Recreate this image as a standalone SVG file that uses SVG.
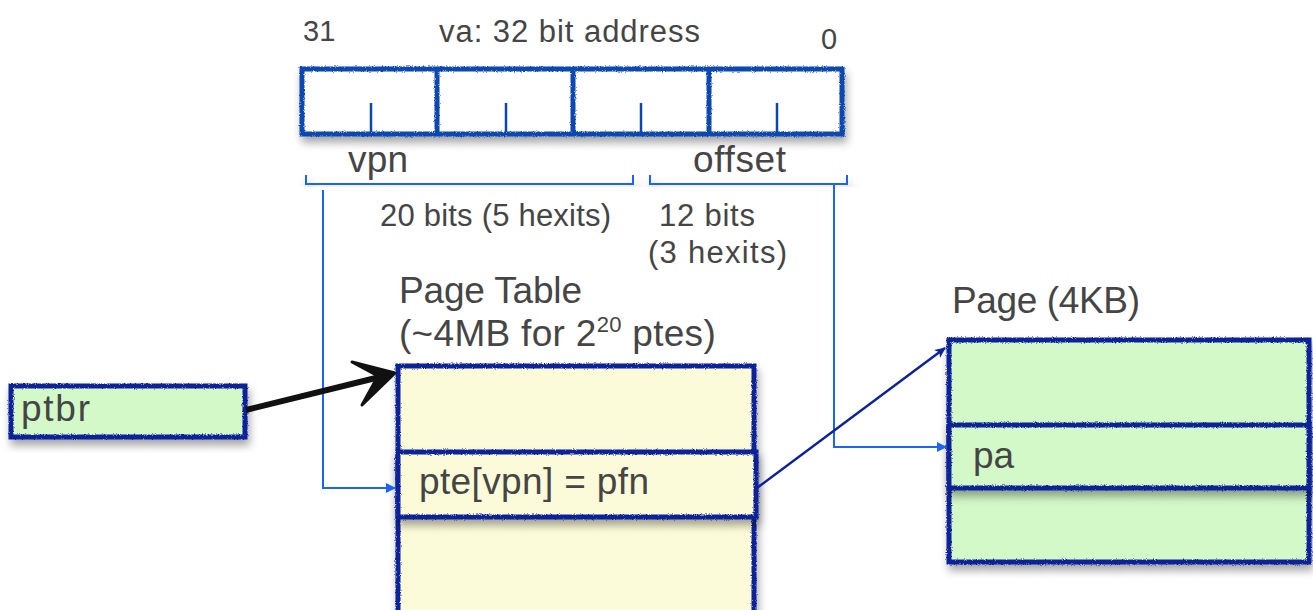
<svg xmlns="http://www.w3.org/2000/svg" width="1313" height="610" viewBox="0 0 1313 610">
<style>
text{font-family:"Liberation Sans",Arial,sans-serif;fill:#454545}
.s{font-size:31px}
.b{font-size:37px}
.box{stroke:#0c2298;stroke-width:5}
.va{fill:#fff;stroke:#0b46b0;stroke-width:5}
.tick{stroke:#0b46b0;stroke-width:2.5}
.blue{fill:none;stroke:#1c64f2;stroke-width:2}
.yel{fill:#fcfbd9}
.grn{fill:#d3f9c8}
</style>
<defs>
<filter id="rough" x="-5%" y="-5%" width="110%" height="110%">
<feTurbulence type="fractalNoise" baseFrequency="0.9" numOctaves="2" seed="3" result="n"/>
<feDisplacementMap in="SourceGraphic" in2="n" scale="3"/>
</filter>
<filter id="shadow" x="-10%" y="-10%" width="125%" height="140%">
<feDropShadow dx="2" dy="6" stdDeviation="4" flood-color="#000" flood-opacity="0.35"/>
</filter>
<marker id="blueArrow" markerWidth="10" markerHeight="10" refX="9" refY="5" orient="auto" markerUnits="userSpaceOnUse" viewBox="0 0 10 10">
<path d="M0,0 L10,5 L0,10 Z" fill="#1c64f2"/>
</marker>
<marker id="navyArrow" markerWidth="12" markerHeight="12" refX="10" refY="6" orient="auto" markerUnits="userSpaceOnUse" viewBox="0 0 12 12">
<path d="M0,1 L11,6 L0,11 L3,6 Z" fill="#0c2298"/>
</marker>
</defs>

<g id="va">
<g filter="url(#shadow)">
<g filter="url(#rough)">
<rect class="va" x="302" y="69" width="540" height="65"/>
<line class="va" x1="437" y1="69" x2="437" y2="134"/>
<line class="va" x1="573" y1="69" x2="573" y2="134"/>
<line class="va" x1="709" y1="69" x2="709" y2="134"/>
</g>
</g>
<line class="tick" x1="371" y1="103" x2="371" y2="132"/>
<line class="tick" x1="506" y1="103" x2="506" y2="132"/>
<line class="tick" x1="641" y1="103" x2="641" y2="132"/>
<line class="tick" x1="777" y1="103" x2="777" y2="132"/>
<text class="s" x="303" y="41" style="font-size:29px">31</text>
<text class="s" x="439" y="42" textLength="261">va: 32 bit address</text>
<text class="s" x="821" y="49" style="font-size:29px">0</text>
</g>

<g id="vpn-field">
<path class="blue" d="M306,175 V184 H633 V175" filter="url(#shadow)"/>
<text class="b" x="348" y="172" textLength="60">vpn</text>
<text class="s" x="380" y="226" textLength="231">20 bits (5 hexits)</text>
</g>

<g id="offset-field">
<path class="blue" d="M650,175 V184 H847 V175" filter="url(#shadow)"/>
<text class="b" x="693" y="172" textLength="93">offset</text>
<text class="s" x="659" y="226" textLength="96">12 bits</text>
<text class="s" x="648" y="263" textLength="139">(3 hexits)</text>
</g>

<g id="ptbr">
<g filter="url(#shadow)"><rect class="box grn" x="11" y="386" width="234" height="51" filter="url(#rough)"/></g>
<text class="b" x="21" y="421" textLength="69">ptbr</text>
</g>

<g id="page-table">
<text class="b" x="399" y="303" textLength="183">Page Table</text>
<text class="b" x="399" y="346" style="letter-spacing:0.3px">(~4MB for 2<tspan dy="-14" style="font-size:22px">20</tspan><tspan dy="14"> ptes)</tspan></text>
<g filter="url(#shadow)"><rect class="box yel" x="398" y="366" width="356" height="270" filter="url(#rough)"/></g>
<g filter="url(#shadow)"><rect class="box yel" x="398" y="452" width="358" height="65" filter="url(#rough)"/></g>
<text class="b" x="419" y="494" textLength="230">pte[vpn] = pfn</text>
</g>

<g id="page">
<text class="b" x="952" y="313" textLength="188">Page (4KB)</text>
<g filter="url(#shadow)"><rect class="box grn" x="949" y="340" width="360" height="222" filter="url(#rough)"/></g>
<g filter="url(#shadow)"><rect class="box grn" x="949" y="425" width="360" height="63" filter="url(#rough)"/></g>
<text class="b" x="973" y="468">pa</text>
</g>

<g id="connectors">
<path class="blue" d="M323,190 V488 H395" marker-end="url(#blueArrow)"/>
<path class="blue" d="M834,184 V447 H946" marker-end="url(#blueArrow)"/>
<path d="M246,410 L388,375" stroke="#111" stroke-width="6" fill="none"/>
<path d="M352,362 L395,373 L362,405 L378,376 Z" fill="#111" stroke="#111" stroke-width="3" stroke-linejoin="round"/>
<line x1="757" y1="488" x2="945" y2="348" stroke="#0c2298" stroke-width="2.5" marker-end="url(#navyArrow)"/>
</g>
</svg>
